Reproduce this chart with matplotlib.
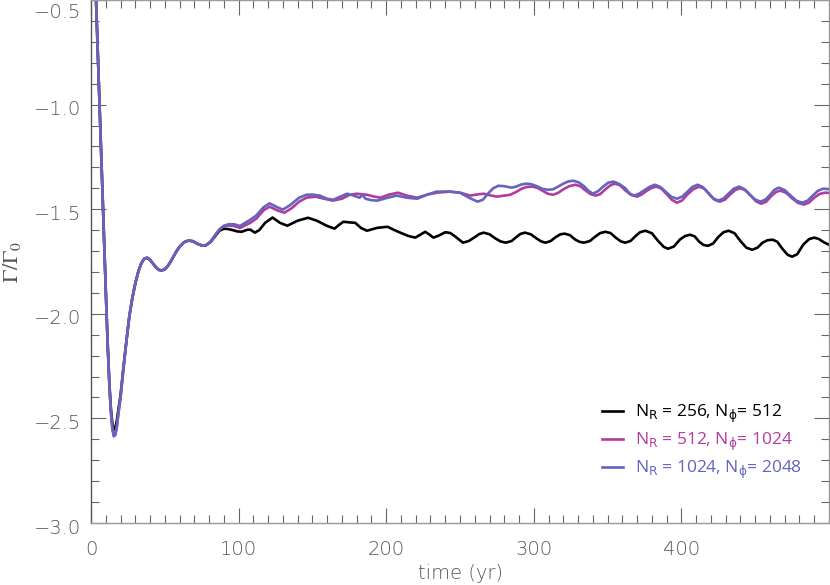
import numpy as np
import matplotlib
matplotlib.use("Agg")
import matplotlib.pyplot as plt
import matplotlib.transforms as mtransforms

# shared start of all runs (time in yr, torque Gamma/Gamma_0)
t_start = [2.5, 3.5, 4.5, 5.5, 6.5, 7.5, 8.5, 9.5, 10.5, 11.5, 12.5, 13.5, 14.5,
           15.5, 16.5, 17.5, 18.5, 20, 22, 24, 26, 28, 30, 32, 34, 36, 38, 40,
           42, 44, 46, 48, 50, 52, 54, 56, 58, 60, 63, 66, 69, 72, 75, 78, 81,
           84, 87, 90]
g_start = [-0.31, -0.52, -0.73, -0.94, -1.15, -1.36, -1.57, -1.78, -1.99, -2.18,
           -2.35, -2.47, -2.55, -2.585, -2.578, -2.54, -2.48, -2.40, -2.26, -2.13,
           -2.01, -1.925, -1.855, -1.80, -1.76, -1.737, -1.732, -1.742, -1.76,
           -1.778, -1.79, -1.793, -1.787, -1.772, -1.75, -1.725, -1.70, -1.68,
           -1.658, -1.65, -1.653, -1.665, -1.673, -1.672, -1.655, -1.625, -1.597,
           -1.58]
g_start_black = [-0.31, -0.52, -0.73, -0.94, -1.15, -1.36, -1.57, -1.78, -1.99,
                 -2.18, -2.34, -2.455, -2.525, -2.553, -2.548, -2.51, -2.46,
                 -2.39, -2.255, -2.13, -2.01, -1.925, -1.855, -1.80, -1.76, -1.737,
                 -1.732, -1.742, -1.76, -1.778, -1.79, -1.793, -1.787, -1.772,
                 -1.75, -1.725, -1.70, -1.68, -1.658, -1.65, -1.653, -1.665,
                 -1.673, -1.672, -1.657, -1.63, -1.603, -1.593]

# N_R = 256, N_phi = 512
t_black = [93, 96, 99, 102, 106, 108, 111, 114, 118, 123, 128, 133, 140, 147,
           153, 160, 165, 168, 171, 175, 179, 183, 187, 191, 194, 201, 205, 209.5,
           215, 219.7, 223, 226.4, 229, 232, 236, 240, 243.5, 247, 252, 256, 259.5,
           263, 266, 270, 274, 277.5, 281, 285, 288, 291, 294, 298, 301.5, 305,
           308, 311.5, 314.5, 318, 321, 324.5, 328, 331, 334, 338, 341.5, 345,
           348.5, 352, 355.5, 359, 362, 365.5, 369, 372, 375.6, 380, 384, 388,
           391, 395, 399, 402.5, 406, 409, 412, 415, 418, 421.5, 425, 428.5, 432,
           436, 440, 444, 448, 451.5, 455, 458.5, 462, 465, 468.5, 472, 475,
           478.5, 482.5, 486.5, 490, 493, 496.5, 500]
g_black = [-1.595, -1.60, -1.606, -1.608, -1.598, -1.598, -1.612, -1.60, -1.565,
           -1.54, -1.565, -1.579, -1.555, -1.541, -1.555, -1.58, -1.593, -1.575,
           -1.56, -1.563, -1.565, -1.59, -1.603, -1.595, -1.589, -1.584, -1.598,
           -1.612, -1.628, -1.636, -1.622, -1.608, -1.62, -1.636, -1.625, -1.61,
           -1.614, -1.632, -1.66, -1.652, -1.636, -1.619, -1.612, -1.62, -1.64,
           -1.654, -1.66, -1.652, -1.634, -1.618, -1.612, -1.62, -1.638, -1.654,
           -1.66, -1.652, -1.635, -1.62, -1.617, -1.624, -1.645, -1.656, -1.66,
           -1.652, -1.632, -1.614, -1.608, -1.614, -1.636, -1.654, -1.66, -1.652,
           -1.628, -1.61, -1.603, -1.615, -1.65, -1.68, -1.689, -1.678, -1.645,
           -1.628, -1.622, -1.63, -1.655, -1.671, -1.675, -1.664, -1.633, -1.61,
           -1.603, -1.615, -1.652, -1.684, -1.694, -1.684, -1.66, -1.648, -1.646,
           -1.656, -1.69, -1.718, -1.727, -1.715, -1.67, -1.643, -1.636, -1.642,
           -1.658, -1.67]

# N_R = 512, N_phi = 1024
t_mag = [93, 97, 101, 105, 108, 112, 117, 121, 126, 131, 136, 141, 146, 152,
         158, 164, 170, 175, 180, 187, 192, 196, 202, 208, 214, 221, 228, 234.5,
         243, 250, 257, 261, 266, 270, 275, 280, 284, 288, 291.5, 295, 299, 302.5,
         306, 309.5, 313, 316.5, 320, 324, 328, 331.5, 335, 338.5, 342, 345,
         348.5, 352, 355, 358.5, 362, 366, 370, 373, 376.5, 380, 383, 386.5, 390,
         393.5, 397, 400.5, 404, 408, 412, 415.5, 419, 422.5, 426, 429.5, 433,
         436.5, 440, 443.5, 447, 450.5, 454, 457.5, 460.5, 464, 467, 471, 475,
         479, 483, 486.5, 490, 493.5, 497, 500]
g_mag = [-1.578, -1.58, -1.59, -1.575, -1.565, -1.545, -1.505, -1.488, -1.505,
         -1.517, -1.495, -1.464, -1.445, -1.44, -1.45, -1.459, -1.45, -1.432,
         -1.426, -1.431, -1.44, -1.445, -1.43, -1.421, -1.435, -1.445, -1.43,
         -1.421, -1.416, -1.421, -1.435, -1.43, -1.426, -1.433, -1.44, -1.435,
         -1.431, -1.418, -1.403, -1.394, -1.392, -1.398, -1.412, -1.426, -1.431,
         -1.422, -1.405, -1.39, -1.383, -1.39, -1.41, -1.428, -1.435, -1.428,
         -1.405, -1.385, -1.378, -1.386, -1.41, -1.432, -1.44, -1.43, -1.412,
         -1.398, -1.392, -1.402, -1.428, -1.455, -1.469, -1.458, -1.43, -1.405,
         -1.392, -1.402, -1.43, -1.455, -1.464, -1.454, -1.43, -1.408, -1.40,
         -1.41, -1.436, -1.462, -1.474, -1.464, -1.44, -1.418, -1.411, -1.422,
         -1.448, -1.47, -1.478, -1.468, -1.445, -1.428, -1.421, -1.422]

# N_R = 1024, N_phi = 2048
t_blue = [93, 97, 101, 105, 108, 112, 117, 121, 126, 130, 135, 141, 146, 150,
          155, 160, 164, 169, 173.5, 178, 182, 184, 186, 190, 194, 200, 207, 214,
          221, 228, 234, 243, 250, 256, 262, 265.5, 269, 272.5, 276, 280, 285,
          288, 291.5, 295, 298, 302, 306, 309.5, 313, 316.5, 320, 323.5, 327,
          330.5, 334, 337, 340, 343.5, 347, 350.5, 354, 358, 362, 365, 368, 371.5,
          375, 378.5, 382, 385.5, 389, 393, 397, 400.5, 404, 407.5, 411, 414.5,
          418, 421.5, 425, 428.5, 432, 435.5, 439, 442.5, 446, 450, 453.5, 457,
          460, 463, 466, 470, 474, 478, 482, 485.5, 489, 492.5, 496, 500]
g_blue = [-1.572, -1.572, -1.58, -1.563, -1.55, -1.53, -1.49, -1.472, -1.49,
          -1.502, -1.48, -1.445, -1.431, -1.43, -1.435, -1.45, -1.455, -1.44,
          -1.426, -1.435, -1.445, -1.432, -1.45, -1.457, -1.459, -1.447, -1.435,
          -1.445, -1.45, -1.43, -1.416, -1.416, -1.421, -1.445, -1.464, -1.455,
          -1.425, -1.40, -1.388, -1.39, -1.397, -1.392, -1.382, -1.378, -1.38,
          -1.39, -1.403, -1.407, -1.405, -1.392, -1.378, -1.367, -1.364, -1.372,
          -1.39, -1.412, -1.426, -1.414, -1.392, -1.373, -1.368, -1.38, -1.40,
          -1.425, -1.435, -1.425, -1.409, -1.393, -1.383, -1.393, -1.414, -1.44,
          -1.45, -1.44, -1.417, -1.393, -1.383, -1.394, -1.42, -1.448, -1.459,
          -1.449, -1.425, -1.402, -1.392, -1.403, -1.428, -1.454, -1.464, -1.454,
          -1.432, -1.407, -1.397, -1.409, -1.435, -1.46, -1.469, -1.459, -1.435,
          -1.412, -1.402, -1.404]

labels = [r"N$_\mathrm{R}$ = 256, N$_\mathrm{\phi}$= 512",
          r"N$_\mathrm{R}$ = 512, N$_\mathrm{\phi}$= 1024",
          r"N$_\mathrm{R}$ = 1024, N$_\mathrm{\phi}$= 2048"]
colors = ["#000000", "#B23C9E", "#6464BE"]

# subscripts in DejaVu Sans: it has the upright stroked phi
plt.rcParams["mathtext.fontset"] = "custom"
plt.rcParams["mathtext.rm"] = "DejaVu Sans"
plt.rcParams["mathtext.it"] = "DejaVu Sans:italic"
plt.rcParams["mathtext.bf"] = "DejaVu Sans:bold"

gray = "#555555"

fig = plt.figure(figsize=(8.3, 5.85), dpi=100)
ax = fig.add_axes([91 / 830, 62 / 585, 738 / 830, 523 / 585])

series = [
    (t_start + t_black, g_start_black + g_black),
    (t_start + t_mag, g_start + g_mag),
    (t_start + t_blue, g_start + g_blue),
]
for (t, g), lab, col in zip(series, labels, colors):
    ax.plot(t, g, color=col, lw=1.9, label=lab, solid_joinstyle="round")

ax.set_xlim(0, 500)
ax.set_ylim(-3.0, -0.5)
ax.set_xticks([0, 100, 200, 300, 400])
ax.set_xticks(np.arange(0, 500, 10), minor=True)
ax.set_yticks([-3.0, -2.5, -2.0, -1.5, -1.0, -0.5])
ax.set_yticks(np.arange(-3.0, -0.49, 0.1), minor=True)
ax.set_yticklabels(["\u22123.0", "\u22122.5", "\u22122.0", "\u22121.5",
                    "\u22121.0", "\u22120.5"])

ax.tick_params(which="both", direction="in", top=True, right=True,
               color="#666666", width=0.8, labelcolor=gray, labelsize=14)
ax.tick_params(which="major", length=11)
ax.tick_params(which="minor", length=6)
ax.tick_params(axis="x", pad=12)
ax.tick_params(axis="y", pad=7)
for lab in ax.get_xticklabels() + ax.get_yticklabels():
    lab.set_fontfamily("DejaVu Sans")
    lab.set_fontweight("light")

# shift y labels slightly down as in the original
offset = mtransforms.ScaledTranslation(0, -3 / 100, fig.dpi_scale_trans)
for lab in ax.get_yticklabels():
    lab.set_transform(lab.get_transform() + offset)
ax.get_yticklabels()[-1].set_verticalalignment("top")

ax.spines["left"].set_color("#555555")
ax.spines["bottom"].set_color("#9a9a9a")
ax.spines["top"].set_color("#9a9a9a")
ax.spines["right"].set_color("#9a9a9a")
for s in ax.spines.values():
    s.set_linewidth(1.0)

ax.set_xlabel("time (yr)", fontsize=14, color=gray, family="DejaVu Sans",
              fontweight="light", labelpad=4)
ax.set_ylabel(r"$\Gamma/\Gamma_0$", fontsize=16, color=gray,
              math_fontfamily="stix")
ax.yaxis.set_label_coords(-0.092, 0.5)

leg = ax.legend(loc="lower right", bbox_to_anchor=(0.985, 0.05), frameon=False,
                handlelength=1.2, handletextpad=0.7, labelspacing=0.35,
                prop={"family": "Open Sans", "size": 12.5})
for txt, col in zip(leg.get_texts(), colors):
    txt.set_color(col)

fig.savefig("out.png", dpi=100)
